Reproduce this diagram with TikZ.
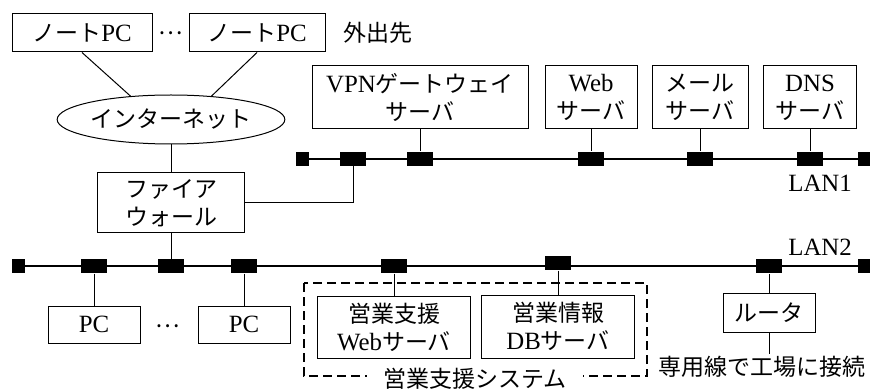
\documentclass[tikz,border=0pt]{standalone}
\usepackage{fontspec}
\setmainfont{Noto Sans CJK JP}
\newfontfamily\lat[Scale=1.08]{Liberation Serif}
\usetikzlibrary{shapes.geometric}

\begin{document}
\begin{tikzpicture}[x=0.5pt,y=-0.5pt,line width=0.5pt,
                    font=\fontsize{11.5}{14}\selectfont]
  \tikzstyle{box}=[draw,inner sep=0pt,align=center]
  \tikzstyle{tap}=[fill=black,inner sep=0pt,minimum width=13pt,minimum height=7pt]
  \tikzstyle{term}=[fill=black,inner sep=0pt,minimum width=6.5pt,minimum height=7pt]
  \tikzstyle{lan}=[line width=1pt]

  \useasboundingbox (0,0) rectangle (870,389);

  % outside and internet
  \node[box,minimum width=70pt,minimum height=19pt] (nb1) at (82,33) {ノート{\lat PC}};
  \node[box,minimum width=68pt,minimum height=19pt] (nb2) at (257,33) {ノート{\lat PC}};
  \node (dots1) at (171,33) {…};
  \node[anchor=west] (away) at (336,33) {外出先};
  \node[draw,ellipse,inner sep=0pt,minimum width=97pt,minimum height=24.5pt] (inet)
        at (171,119.5) {インターネット};
  \node[box,minimum width=73.5pt,minimum height=30pt] (fw) at (171,203) {ファイア\\ウォール};

  % LAN1
  \node[box,minimum width=108pt,minimum height=31.5pt] (vpn)  at (420,97.5) {{\lat VPN}ゲートウェイ\\サーバ};
  \node[box,minimum width=46pt,minimum height=31.5pt]  (web)  at (591,97.5) {{\lat Web}\\サーバ};
  \node[box,minimum width=48pt,minimum height=31.5pt]  (mail) at (700,97.5) {メール\\サーバ};
  \node[box,minimum width=46.5pt,minimum height=31.5pt] (dns) at (810,97.5) {{\lat DNS}\\サーバ};

  \node[term] (e11) at (302,159) {};
  \node[tap]  (t11) at (353,159) {};
  \node[tap]  (t12) at (420,159) {};
  \node[tap]  (t13) at (591,159) {};
  \node[tap]  (t14) at (700,159) {};
  \node[tap]  (t15) at (810,159) {};
  \node[term] (e12) at (864.5,159) {};
  \node[anchor=east] (lan1) at (859,183) {\lat LAN1};

  % LAN2
  \node[term] (e21) at (18,266) {};
  \node[tap]  (t21) at (94,266) {};
  \node[tap]  (t22) at (171,266) {};
  \node[tap]  (t23) at (244,266) {};
  \node[tap]  (t24) at (394,266) {};
  \node[tap]  (t25) at (558,263) {};
  \node[tap]  (t26) at (769,266) {};
  \node[term] (e22) at (864.5,266) {};
  \node[anchor=east] (lan2) at (859,247) {\lat LAN2};

  \node[box,minimum width=46pt,minimum height=18.5pt] (pc1) at (94,324.5) {\lat PC};
  \node (dots2) at (168,326) {…};
  \node[box,minimum width=46pt,minimum height=18.5pt] (pc2) at (244,324.5) {\lat PC};
  \node[box,minimum width=76.5pt,minimum height=31pt] (sws) at (394,327) {営業支援\\{\lat Web}サーバ};
  \node[box,minimum width=76.5pt,minimum height=31.5pt] (db) at (558,326.5) {営業情報\\{\lat DB}サーバ};
  \node[box,minimum width=46pt,minimum height=19.5pt] (rt) at (769,312.5) {ルータ};
  \node[inner sep=1pt] (lease) at (761.5,367) {専用線で工場に接続};

  \draw[line width=1.3pt,dash pattern=on 4.5pt off 2.5pt] (304,283) rectangle (647,376);
  \node[fill=white,inner xsep=8pt,inner ysep=0pt] (sys) at (475,379) {営業支援システム};

  % connectors
  \draw (nb1.south) -- (inet.150);
  \draw (nb2.south) -- (inet.30);
  \draw (inet) -- (fw);
  \draw (fw.east) -| (t11.south);
  \draw (fw) -- (t22);
  \draw (vpn) -- (t12);
  \draw (web) -- (t13);
  \draw (mail) -- (t14);
  \draw (dns) -- (t15);
  \draw (t21) -- (pc1);
  \draw (t23) -- (pc2);
  \draw (t24) -- (sws);
  \draw (t25) -- (db);
  \draw (t26) -- (rt);
  \draw (rt.south) -- (rt.south |- lease.north);
  \draw[lan] (e11) -- (e12);
  \draw[lan] (e21) -- (e22);
\end{tikzpicture}
\end{document}
